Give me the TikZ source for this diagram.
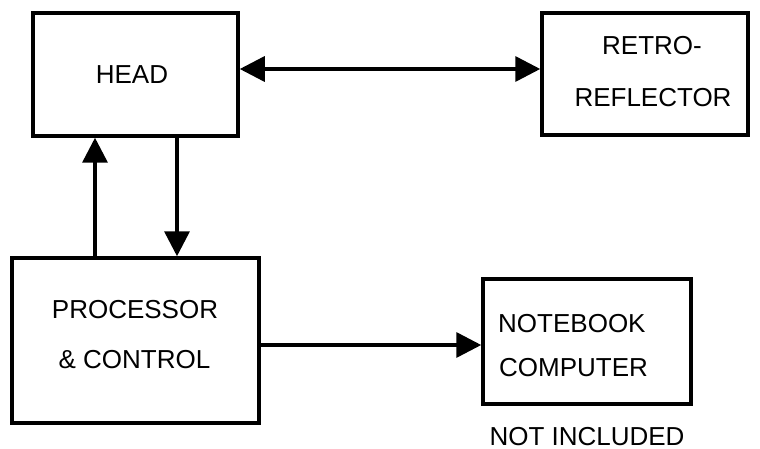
\documentclass[tikz,border=0pt]{standalone}
\usepackage{fontspec}
\setmainfont{Liberation Sans}
\usetikzlibrary{arrows.meta}
\begin{document}
\begin{tikzpicture}[x=1pt,y=-1pt,
  box/.style={draw, line width=3.5pt, rectangle, inner sep=0pt},
  txt/.style={inner sep=0pt, font=\fontsize{26}{30}\selectfont, text height=18.6pt, text depth=0pt},
  link/.style={line width=3.5pt, -{Triangle[length=25pt,width=25pt]}},
  dlink/.style={line width=3.5pt, {Triangle[length=25pt,width=25pt]}-{Triangle[length=25pt,width=25pt]}}]
  \useasboundingbox (0,0) rectangle (760,449);

  % blocks
  \node[box, minimum width=205pt, minimum height=123pt] (head) at (135.5,74.5) {};
  \node[box, minimum width=206pt, minimum height=122pt] (retro) at (645,74) {};
  \node[box, minimum width=247pt, minimum height=165pt] (proc) at (135.5,340.5) {};
  \node[box, minimum width=208pt, minimum height=125pt] (nb) at (587,341.5) {};

  % labels
  \node[txt] (headT) at (132,74) {HEAD};
  \node[txt] (retroA) at (652,45) {RETRO-};
  \node[txt] (retroB) at (653,97) {REFLECTOR};
  \node[txt] (procA) at (135,309) {PROCESSOR};
  \node[txt] (procB) at (134.5,359) {\& CONTROL};
  \node[txt, anchor=west] (nbA) at (498,323) {NOTEBOOK};
  \node[txt, anchor=west] (nbB) at (499,367) {COMPUTER};
  \node[txt] (nbNote) at (587,436.5) {NOT INCLUDED};

  % connector guides
  \coordinate (yTop) at (0,69);
  \coordinate (yMid) at (0,345);
  \coordinate (xUp) at (95,0);
  \coordinate (xDown) at (177,0);

  % connectors
  \draw[dlink] (head.east |- yTop) -- (retro.west |- yTop);
  \draw[link] (proc.north -| xUp) -- (head.south -| xUp);
  \draw[link] (head.south -| xDown) -- (proc.north -| xDown);
  \draw[link] (proc.east |- yMid) -- (nb.west |- yMid);
\end{tikzpicture}
\end{document}
